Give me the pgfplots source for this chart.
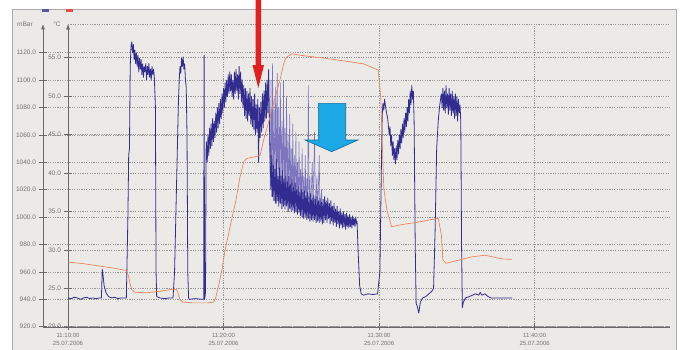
\documentclass[border=0pt]{standalone}
\usepackage{fontspec}
\setmainfont{Liberation Sans}
\usepackage{pgfplots}
\pgfplotsset{compat=1.18}
\usetikzlibrary{arrows.meta}
\definecolor{bgframe}{RGB}{236,234,231}
\definecolor{gridc}{RGB}{150,150,150}
\definecolor{txtc}{RGB}{115,115,115}
\definecolor{axc}{RGB}{105,105,105}
\definecolor{bluel}{RGB}{50,44,145}
\definecolor{bluelight}{RGB}{125,118,190}
\definecolor{orangel}{RGB}{236,133,90}
\definecolor{arrred}{RGB}{228,32,30}
\definecolor{arrcyan}{RGB}{28,168,228}
\definecolor{arrcyanD}{RGB}{20,110,160}

\pgfplotsset{
  common/.style={scale only axis, height=302.2pt, anchor=south west, xmax=38.7,
    tick label style={txtc, font=\fontsize{6.5}{7}\selectfont},
    grid style={gridc, dash pattern=on 1.2pt off 1.2pt, line width=0.5pt},
    tick style={axc, line width=0.5pt}, tick align=center, major tick length=7pt},
}

\begin{document}
\begin{tikzpicture}[x=1pt,y=1pt]
\path[use as bounding box] (0,0) rectangle (680,349);
\fill[white] (0,0) rectangle (680,349);
\filldraw[fill=bgframe, draw=gray!65, line width=0.8pt] (12.5,-3) rectangle (676.5,340);

% main degC axis: grid, axis lines, x ticks
\begin{axis}[common, at={(68pt,22.3pt)}, width=602pt, xmin=0, ymin=20, ymax=59.32,
  axis x line*=bottom, axis y line*=left,
  x axis line style={axc, -}, y axis line style={axc, line width=0.6pt, -{Triangle[width=3.5pt,length=5pt]}},
  xtick={0,10,20,30},
  xticklabels={11:10:00\\25.07.2006, 11:20:00\\25.07.2006, 11:30:00\\25.07.2006, 11:40:00\\25.07.2006},
  xticklabel style={align=center, font=\fontsize{6}{8}\selectfont},
  ytick={20,25,...,55},
  yticklabel={\pgfmathprintnumber[fixed,fixed zerofill,precision=1,1000 sep={},assume math mode=true]{\tick}},
  xmajorgrids, ymajorgrids]
\addplot[draw=none] coordinates {(0,20)};
\draw[gridc, dash pattern=on 1.2pt off 1.2pt, line width=0.5pt] (rel axis cs:0,1) -- (rel axis cs:1,1);
\end{axis}

% mBar axis with pressure data
\begin{axis}[common, at={(43pt,22.3pt)}, width=627pt, xmin=-1.6077, ymin=920, ymax=1140.6,
  axis x line*=bottom, axis y line*=left,
  x axis line style={axc, -}, y axis line style={axc, line width=0.6pt, -{Triangle[width=3.5pt,length=5pt]}},
  xtick=\empty,
  ytick={920,940,...,1120},
  yticklabel={\pgfmathprintnumber[fixed,fixed zerofill,precision=1,1000 sep={},assume math mode=true]{\tick}},
  ymajorgrids]
% pressure, first part
\addplot[bluel, line width=0.8pt, line join=round] coordinates {
(0,941) (0.2,940.5) (0.4,941.5) (0.6,941) (0.8,940) (1.0,941) (1.2,941.5) (1.4,940.5) (1.6,941) (1.8,940.5) (2.0,941) (2.15,941)
(2.2,962) (2.25,958) (2.32,950) (2.44,945) (2.6,942) (2.8,941) (3.0,941.5) (3.2,940.5) (3.4,941) (3.6,941) (3.75,941)
(3.85,1000) (3.9,1045) (3.95,1050) (4.0,1110) (4.05,1125) (4.1,1128)
(4.15,1120) (4.2,1126) (4.25,1115) (4.3,1122) (4.35,1112) (4.4,1120) (4.45,1110) (4.5,1118) (4.55,1106) (4.6,1116) (4.65,1108) (4.7,1115) (4.75,1104) (4.8,1112) (4.85,1102) (4.9,1110) (4.95,1106) (5.0,1112) (5.05,1100) (5.1,1110) (5.15,1104) (5.2,1112) (5.25,1102) (5.3,1108) (5.35,1100) (5.4,1110) (5.45,1104) (5.5,1108) (5.55,1102)
(5.62,1080) (5.66,960) (5.7,942) (5.9,941) (6.2,940.5) (6.5,941) (6.75,941)
(6.85,960) (6.95,1010) (7.05,1060) (7.1,1085) (7.15,1100) (7.2,1110) (7.25,1105) (7.3,1116) (7.35,1110) (7.4,1117) (7.45,1108) (7.5,1112) (7.55,1100) (7.6,1095) (7.65,1060) (7.7,960) (7.75,941)
(7.8,940) (8.2,940.5) (8.6,940) (8.72,940)
(8.75,1118) (8.78,940) (8.84,945)
(8.88,1050) (8.9,1055) (8.95,1040) (9.0,1060) (9.05,1045) (9.1,1065) (9.15,1050) (9.2,1068) (9.25,1052) (9.3,1072) (9.35,1055) (9.4,1070) (9.45,1058) (9.5,1076) (9.55,1062) (9.6,1080) (9.65,1065) (9.7,1083) (9.75,1068) (9.8,1086) (9.85,1072) (9.9,1090) (9.95,1076) (10.0,1094) (10.05,1080) (10.1,1098) (10.15,1084) (10.2,1100) (10.25,1088) (10.3,1104) (10.35,1090) (10.4,1106)
(10.45,1092) (10.5,1104) (10.55,1088) (10.6,1100) (10.65,1086) (10.7,1106) (10.75,1090) (10.8,1108) (10.85,1092) (10.9,1104) (10.95,1086) (11.0,1110) (11.05,1090) (11.1,1106) (11.15,1084) (11.2,1100) (11.25,1080) (11.3,1096) (11.35,1074) (11.4,1094) (11.45,1072) (11.5,1092) (11.55,1070) (11.6,1090) (11.65,1074) (11.7,1094) (11.75,1068) (11.8,1088) (11.85,1066) (11.9,1086) (11.95,1064) (12.0,1090) (12.05,1060) (12.1,1082) (12.15,1062) (12.2,1086) (12.25,1040) (12.3,1080) (12.35,1058) (12.4,1084) (12.45,1062) (12.5,1090) (12.55,1065) (12.6,1092) (12.65,1070) (12.7,1098) (12.75,1072) (12.8,1100) (12.85,1076) (12.9,1108) (12.95,1070)
};
% pressure, tall oscillation spikes
\addplot[bluelight, line width=0.6pt, line join=round] coordinates {
(12.95,1070) (13.0,1020) (13.05,1100) (13.1,1015) (13.15,1112) (13.2,1012) (13.25,1085) (13.3,1018) (13.35,1095) (13.4,1010) (13.45,1105) (13.5,1015) (13.55,1080) (13.6,1012) (13.65,1098) (13.7,1016) (13.75,1070) (13.8,1010) (13.85,1100) (13.9,1014) (13.95,1065) (14.0,1010) (14.05,1088) (14.1,1012) (14.15,1060) (14.2,1008) (14.25,1075) (14.3,1012) (14.35,1050) (14.4,1008) (14.45,1068) (14.5,1010) (14.55,1045) (14.6,1006) (14.65,1062) (14.7,1012) (14.75,1040) (14.8,1006) (14.85,1055) (14.9,1010) (14.95,1035) (15.0,1005) (15.05,1050) (15.1,1010) (15.15,1030) (15.2,1004) (15.25,1045) (15.3,1008) (15.35,1028) (15.4,1004) (15.45,1096) (15.5,1006) (15.55,1030) (15.6,1002) (15.7,1040) (15.75,1004) (15.85,1062) (15.9,1003) (16.0,1030) (16.05,1002) (16.15,1045) (16.2,1000) (16.3,1020) (16.35,1002) (16.45,1010)
};
% pressure, dense band and remainder
\addplot[bluel, line width=0.8pt, line join=round] coordinates {
(12.95,1070) (13.0,1040) (13.05,1020) (13.1,1045) (13.15,1015) (13.2,1038) (13.25,1012) (13.3,1035) (13.35,1010) (13.4,1042) (13.45,1012) (13.5,1030) (13.55,1008) (13.6,1036) (13.65,1010) (13.7,1030) (13.75,1006) (13.8,1034) (13.85,1008) (13.9,1028) (13.95,1006) (14.0,1030) (14.05,1008) (14.1,1026) (14.15,1004) (14.2,1030) (14.25,1006) (14.3,1024) (14.35,1004) (14.4,1028) (14.45,1005) (14.5,1022) (14.55,1003) (14.6,1025) (14.65,1004) (14.7,1020) (14.75,1002) (14.8,1022) (14.85,1003) (14.9,1018) (14.95,1001) (15.0,1020) (15.05,1000) (15.1,1018) (15.15,999) (15.2,1019) (15.25,1000) (15.3,1016) (15.35,998) (15.4,1018) (15.45,999) (15.5,1015) (15.55,997) (15.6,1017) (15.65,998) (15.7,1014) (15.75,997) (15.8,1016) (15.85,998) (15.9,1013) (15.95,996) (16.0,1015) (16.05,997) (16.1,1012) (16.15,996) (16.2,1014) (16.25,997) (16.3,1011) (16.35,995) (16.4,1013) (16.45,996)
(16.5,1015) (16.55,998) (16.6,1012) (16.65,996) (16.7,1014) (16.75,999) (16.8,1010) (16.85,995) (16.9,1012) (16.95,997) (17.0,1008) (17.05,994) (17.1,1010) (17.15,996) (17.2,1006) (17.25,993) (17.3,1008) (17.35,995) (17.4,1004) (17.45,992) (17.5,1006) (17.55,994) (17.6,1003) (17.65,992) (17.7,1004) (17.75,993) (17.8,1002) (17.85,991) (17.9,1003) (17.95,993) (18.0,1001) (18.05,992) (18.1,1002) (18.15,993) (18.2,1000) (18.25,992) (18.3,1001) (18.35,994) (18.4,999) (18.45,993) (18.5,1000) (18.55,995) (18.58,997)
(18.65,975) (18.75,950) (18.85,944) (19.0,943) (19.3,944) (19.6,943.5) (19.9,944)
(20.05,960) (20.15,1040) (20.2,1075) (20.25,1083) (20.3,1078) (20.35,1086) (20.45,1078) (20.55,1072) (20.65,1060) (20.7,1066) (20.75,1052) (20.8,1060) (20.85,1045) (20.9,1055) (20.95,1042) (21.0,1050) (21.05,1039) (21.1,1052) (21.15,1042) (21.2,1056) (21.25,1046) (21.3,1060) (21.35,1050) (21.4,1064) (21.45,1054) (21.5,1068) (21.55,1058) (21.6,1072) (21.65,1062) (21.7,1076) (21.75,1066) (21.8,1080) (21.85,1070) (21.9,1086) (21.95,1076) (22.0,1092) (22.05,1082) (22.1,1096) (22.15,1086) (22.2,1092) (22.25,1070)
(22.32,980) (22.38,937) (22.45,935) (22.55,930) (22.65,938) (22.8,941) (23.0,942) (23.2,944) (23.4,946) (23.5,948)
(23.6,990) (23.7,1050) (23.8,1070) (23.9,1082) (24.0,1090) (24.05,1080) (24.1,1094) (24.15,1078) (24.2,1092) (24.25,1076) (24.3,1096) (24.35,1080) (24.4,1090) (24.45,1075) (24.5,1094) (24.55,1078) (24.6,1090) (24.65,1074) (24.7,1092) (24.75,1076) (24.8,1088) (24.85,1072) (24.9,1090) (24.95,1074) (25.0,1088) (25.05,1070) (25.1,1086) (25.15,1076) (25.2,1082) (25.25,1070)
(25.3,980) (25.35,934) (25.42,938) (25.55,941) (25.8,942) (26.0,943) (26.2,944) (26.4,943) (26.5,945) (26.6,943) (26.8,944) (27.0,942) (27.2,941) (27.5,941) (28.0,941) (28.55,941)
};
\end{axis}

% temperature data on top
\begin{axis}[common, at={(68pt,22.3pt)}, width=602pt, xmin=0, ymin=20, ymax=59.32, hide axis]
\addplot[orangel, line width=0.7pt, line join=round] coordinates {
(0,28.4) (1,28.2) (2,27.9) (3,27.6) (3.77,27.3) (3.9,26.5) (4.0,25.5) (4.1,24.8) (4.3,24.5) (5,24.4) (5.9,24.6) (6.8,24.9) (7.0,24.8) (7.1,24.2) (7.2,23.5) (7.4,23.2) (8,23.1) (9,23.1) (9.35,23.2) (9.5,23.8) (9.7,25.5) (9.9,27.5) (10.1,30) (10.42,33.0) (10.8,36.5) (11.06,39.5) (11.3,41.5) (11.5,41.9) (12.0,42.1) (12.35,42.3) (12.6,44.5) (12.99,47.3) (13.3,49.8) (13.63,52.1) (13.9,54.5) (14.07,55.1) (14.4,55.5) (15,55.3) (17,54.8) (19,54.2) (19.94,53.4) (20.1,50) (20.2,44.3) (20.3,38) (20.5,35.2) (20.8,33.0) (21.5,33.3) (22.5,33.6) (23.5,34.0) (23.8,34.1) (24.0,32) (24.1,28.7) (24.3,28.25) (25,28.6) (26,29.1) (26.8,29.3) (27.5,29.0) (28.0,28.8) (28.55,28.77)
};
\end{axis}

% header labels and series markers
\node[txtc, font=\fontsize{6.5}{7}\selectfont] at (25,324.5) {mBar};
\node[txtc, font=\fontsize{6.5}{7}\selectfont] at (57,324.5) {°C};
\fill[bluel!80] (42,337) rectangle (49,339.5);
\fill[arrred!80] (66,337) rectangle (73,339.5);

% annotation arrows
\fill[arrred] (255.5,349) -- (261,349) -- (261,284) -- (264,284) -- (258.3,261) -- (252.5,284) -- (255.5,284) -- cycle;
\filldraw[fill=arrcyan, draw=arrcyanD, line width=0.6pt] (318.3,245.7) -- (345.7,245.7) -- (345.7,209) -- (358,209) -- (331.7,197.3) -- (305,209) -- (318.3,209) -- cycle;
\end{tikzpicture}
\end{document}
